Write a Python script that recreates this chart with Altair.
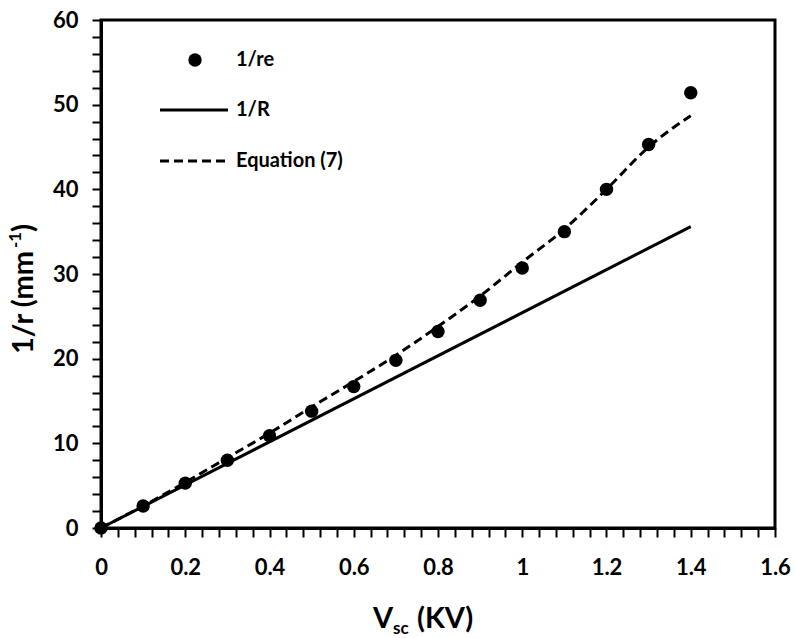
import altair as alt
import pandas as pd

# Data
v = [0, 0.1, 0.2, 0.3, 0.4, 0.5, 0.6, 0.7, 0.8, 0.9, 1.0, 1.1, 1.2, 1.3, 1.4]
inv_re = [0, 2.6, 5.3, 8.0, 10.9, 13.8, 16.7, 19.8, 23.2, 26.9, 30.7, 35.0, 40.0, 45.3, 51.4]
inv_eq7 = [0, 2.6, 5.4, 8.3, 11.2, 14.3, 17.3, 20.4, 23.8, 27.4, 31.4, 35.3, 40.0, 45.0, 48.7]
v_R = [0, 1.4]
inv_R = [0, 35.6]

x_ticks = [round(i * 0.04, 2) for i in range(41)]
y_ticks = [i * 2 for i in range(31)]

legend_labels = ["1/re", "1/R", "Equation (7)"]

FONT = "Lato"
W, H = 674, 508

df_pts = pd.DataFrame({"V": v, "y": inv_re})
df_eq = pd.DataFrame({"V": v, "y": inv_eq7})
df_R = pd.DataFrame({"V": v_R, "y": inv_R})

xscale = alt.Scale(domain=[0, 1.6], nice=False, zero=False)
yscale = alt.Scale(domain=[0, 60], nice=False, zero=False)

common_axis = dict(
    title=None, grid=False, labelOverlap=False, labelFlush=False,
    domainColor="black", domainWidth=3, tickColor="black", tickWidth=2, tickSize=9,
    labelFont=FONT, labelFontSize=22, labelFontWeight="bold", labelColor="black",
)
xaxis = alt.Axis(
    values=x_ticks,
    labelExpr="abs(datum.value*5 - round(datum.value*5)) < 1e-6 ? toString(round(datum.value*10)/10) : ''",
    labelPadding=20, **common_axis,
)
yaxis = alt.Axis(
    values=y_ticks,
    labelExpr="round(datum.value) % 10 == 0 ? toString(round(datum.value)) : ''",
    labelPadding=14, **common_axis,
)

X = alt.X("V:Q", scale=xscale, axis=xaxis)
Y = alt.Y("y:Q", scale=yscale, axis=yaxis)

solid = alt.Chart(df_R).mark_line(color="black", strokeWidth=3).encode(x=X, y=Y)
dashed = alt.Chart(df_eq).mark_line(
    color="black", strokeWidth=3, strokeDash=[9, 5], interpolate="monotone"
).encode(x=X, y=Y)
points = alt.Chart(df_pts).mark_point(
    filled=True, color="black", size=180, opacity=1, shape="circle"
).encode(x=X, y=Y)

# Manual legend (pixel positions inside the plot area)
def one(label):
    return pd.DataFrame({"a": [label]})

def legend_label(label, y):
    return alt.Chart(one(label)).mark_text(
        align="left", baseline="middle", font=FONT, fontSize=20, fontWeight="bold",
        color="black", text=label,
    ).encode(x=alt.value(135), y=alt.value(y))

legend_dot = alt.Chart(one(legend_labels[0])).mark_point(
    filled=True, color="black", size=180, opacity=1, shape="circle"
).encode(x=alt.value(94), y=alt.value(40))
legend_solid = alt.Chart(one(legend_labels[1])).mark_rule(color="black", strokeWidth=3).encode(
    x=alt.value(59), x2=alt.value(127), y=alt.value(90)
)
legend_dash = alt.Chart(one(legend_labels[2])).mark_rule(
    color="black", strokeWidth=3, strokeDash=[9, 5]
).encode(x=alt.value(59), x2=alt.value(127), y=alt.value(141))
legend_texts = [legend_label(legend_labels[0], 40), legend_label(legend_labels[1], 90),
                legend_label(legend_labels[2], 141)]

# Axis titles with sub/superscripts
def txt(s, x, y, size, angle=0):
    kw = dict(align="left", baseline="alphabetic", font=FONT, fontSize=size,
              fontWeight="bold", color="black", text=s)
    if angle:
        kw["angle"] = angle
    return alt.Chart(one(s)).mark_text(**kw).encode(x=alt.value(x), y=alt.value(y))

x_title = [
    txt("V", 272, 608, 29),
    txt("sc", 292, 614, 17),
    txt("(KV)", 316, 608, 29),
]
y_title = [
    txt("1/r (mm", -68, 334, 29, angle=270),
    txt("-1", -80, 228, 17, angle=270),
    txt(")", -68, 212, 29, angle=270),
]

chart = alt.layer(
    solid, dashed, points, legend_dot, legend_solid, legend_dash, *legend_texts, *x_title, *y_title
).properties(
    width=W, height=H,
    autosize=alt.AutoSizeParams(type="none"),
    padding={"left": 101, "top": 20, "right": 20, "bottom": 110},
    background="white",
).configure_view(stroke="black", strokeWidth=3)

chart.save("out.html", embed_options={"renderer": "svg", "actions": False})
